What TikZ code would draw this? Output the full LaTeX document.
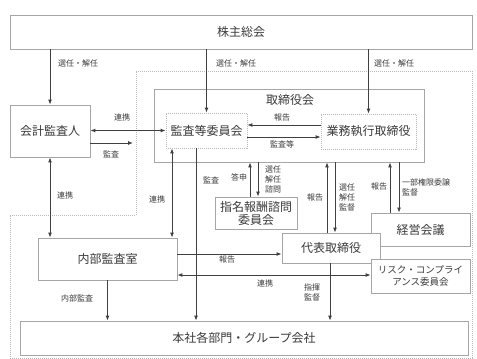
\documentclass[tikz,border=0pt]{standalone}
\usepackage{fontspec}
\setmainfont{Noto Sans CJK JP}
\usetikzlibrary{arrows.meta}
\definecolor{boxgray}{HTML}{A6A6A6}
\definecolor{zonegray}{HTML}{B8B8B8}
\definecolor{linegray}{HTML}{404040}
\definecolor{txtgray}{HTML}{3A3A3A}
\begin{document}
\begin{tikzpicture}[
  x=1pt, y=-1pt,
  box/.style={draw=boxgray, line width=0.8pt, fill=white, inner sep=0pt, text=txtgray, font=\fontsize{12}{15}\selectfont, align=center},
  dbox/.style={box, draw=zonegray, dash pattern=on 1pt off 1pt},
  zone/.style={draw=zonegray, line width=0.8pt, dash pattern=on 1pt off 1pt},
  arr/.style={-{Latex[length=5pt,width=4pt]}, line width=0.9pt, draw=linegray},
  darr/.style={{Latex[length=5pt,width=4pt]}-{Latex[length=5pt,width=4pt]}, line width=0.9pt, draw=linegray},
  lbl/.style={font=\fontsize{8}{10}\selectfont, text=txtgray, inner sep=0pt, align=center}
]
  \useasboundingbox (0,0) rectangle (477,359);

  % === COMPANY ZONE ===
  \draw[zone] (136,71) -- (472,71) -- (472,358) -- (10,358) -- (10,215) -- (136,215) -- cycle;

  % === BOXES ===
  \node[box, minimum width=462pt, minimum height=34pt] (gm) at (241,32) {株主総会};
  \node[box, minimum width=80pt, minimum height=52pt] (ca) at (50,131) {会計監査人};
  \node[box, minimum width=270pt, minimum height=73pt] (bod) at (289,125.5) {};
  \node[box, draw=none, fill=none] (bodlbl) at (290,100) {取締役会};
  \node[dbox, minimum width=81pt, minimum height=35pt] (ac) at (206.5,130.5) {監査等委員会};
  \node[dbox, minimum width=95pt, minimum height=35pt] (exe) at (368.5,131.5) {業務執行取締役};
  \node[box, minimum width=82pt, minimum height=32pt, font=\fontsize{12}{13}\selectfont] (nom) at (256,213) {指名報酬諮問\\委員会};
  \node[box, minimum width=99pt, minimum height=33pt] (mgmt) at (420.5,229.5) {経営会議};
  \node[box, minimum width=98pt, minimum height=30pt] (ceo) at (331,248) {代表取締役};
  \node[box, minimum width=99pt, minimum height=34pt, font=\fontsize{9.5}{12}\selectfont] (risk) at (420.5,276) {リスク・コンプライ\\アンス委員会};
  \node[box, minimum width=139pt, minimum height=42pt] (ia) at (107.5,259) {内部監査室};
  \node[box, minimum width=448pt, minimum height=34pt] (hq) at (244,338) {本社各部門・グループ会社};

  % === SHAREHOLDERS ===
  \draw[arr] (gm.south -| ca.north) -- (ca.north);
  \draw[arr] (gm.south -| ac.north) -- (ac.north);
  \draw[arr] (gm.south -| exe.north) -- (exe.north);
  \node[lbl] (l1) at (78,63) {選任・解任};
  \node[lbl] (l2) at (236,63) {選任・解任};
  \node[lbl] (l3) at (394,63) {選任・解任};

  % === ACCOUNTING AUDITOR ===
  \coordinate (caout) at (133,143);
  \draw[darr] (ca.east |- ac.west) -- (ac.west);
  \draw[arr] (ca.east |- caout) -- (caout);
  \node[lbl] (l4) at (122,117) {連携};
  \node[lbl] (l5) at (111,154) {監査};
  \draw[darr] (ca.south) -- (ca.south |- ia.north);
  \node[lbl] (l6) at (65,195) {連携};

  % === INSIDE THE BOARD ===
  \draw[arr] (exe.west |- 0,125) -- (ac.east |- 0,125);
  \draw[arr] (ac.east |- 0,137) -- (exe.west |- 0,137);
  \node[lbl] (l7) at (282,117) {報告};
  \node[lbl] (l8) at (282,144) {監査等};

  % === AUDIT COMMITTEE ===
  \draw[darr] (ac.south -| 172,0) -- (ia.north -| 172,0);
  \draw[arr] (ac.south -| 196,0) -- (hq.north -| 196,0);
  \node[lbl] (l9) at (157,199) {連携};
  \node[lbl] (l10) at (211,180) {監査};

  % === BOARD <-> COMMITTEES ===
  \draw[arr] (nom.north -| 250,0) -- (bod.south -| 250,0);
  \draw[arr] (bod.south -| 258,0) -- (nom.north -| 258,0);
  \node[lbl] (l11) at (239,177) {答申};
  \node[lbl] (l12) at (273,179) {選任\\解任\\諮問};

  \draw[arr] (ceo.north -| 327,0) -- (bod.south -| 327,0);
  \draw[arr] (bod.south -| 335,0) -- (ceo.north -| 335,0);
  \node[lbl] (l13) at (315,197) {報告};
  \node[lbl] (l14) at (347,197) {選任\\解任\\監督};

  \draw[arr] (mgmt.north -| 390,0) -- (bod.south -| 390,0);
  \draw[arr] (bod.south -| 399,0) -- (mgmt.north -| 399,0);
  \node[lbl] (l15) at (379,186) {報告};
  \node[lbl, anchor=west, align=left] (l16) at (402,187) {一部権限委譲\\監督};

  % === INTERNAL AUDIT / CEO ===
  \draw[arr] (ia.east |- 0,254) -- (ceo.west |- 0,254);
  \draw[darr] (ia.east |- 0,275) -- (risk.west |- 0,275);
  \node[lbl] (l17) at (227,259) {報告};
  \node[lbl] (l18) at (265,283) {連携};
  \draw[arr] (ceo.south -| 330,0) -- (hq.north -| 330,0);
  \node[lbl] (l19) at (312,292) {指揮\\監督};
  \draw[arr] (ia.south) -- (ia.south |- hq.north);
  \node[lbl] (l20) at (77,298) {内部監査};
\end{tikzpicture}
\end{document}
